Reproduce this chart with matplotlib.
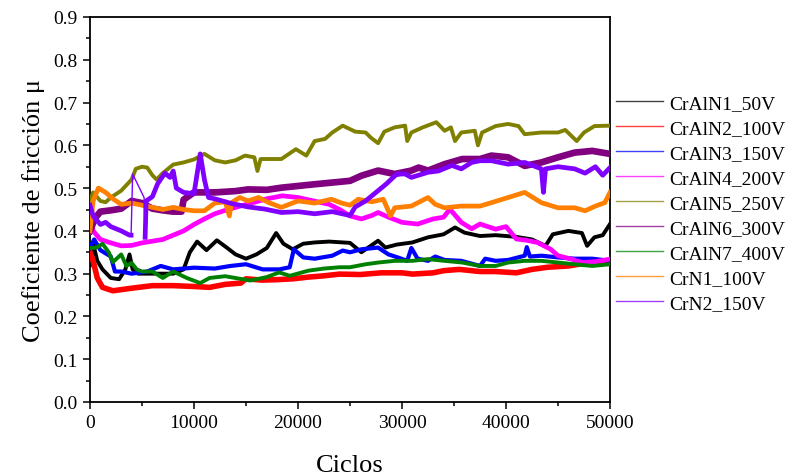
import matplotlib
matplotlib.use("Agg")
import matplotlib.pyplot as plt
from matplotlib.ticker import MultipleLocator
import numpy as np

plt.rcParams['font.family'] = ['Liberation Serif', 'DejaVu Serif']
plt.rcParams['mathtext.fontset'] = 'stix'

labels = ["CrAlN1_50V", "CrAlN2_100V", "CrAlN3_150V", "CrAlN4_200V", "CrAlN5_250V",
          "CrAlN6_300V", "CrAlN7_400V", "CrN1_100V", "CrN2_150V"]

# CrAlN1_50V (black)
n1_cyc = [0, 300, 700, 1200, 2000, 2800, 3400, 3800, 4100, 4600, 6000, 8000, 9000, 9600, 10300,
          11200, 12200, 13200, 14000, 15000, 16000, 17000, 17900, 18600, 19500, 20500, 21600,
          23000, 25000, 26100, 27700, 28400, 29500, 31000, 32500, 34000, 35100, 36000, 37500,
          39000, 41000, 42500, 43800, 44500, 46000, 47300, 47800, 48500, 49300, 50000]
n1_mu = [0.32, 0.37, 0.33, 0.31, 0.29, 0.287, 0.31, 0.345, 0.31, 0.30, 0.30, 0.30, 0.31, 0.35, 0.375,
         0.355, 0.378, 0.36, 0.345, 0.335, 0.345, 0.36, 0.395, 0.37, 0.357, 0.37, 0.373,
         0.375, 0.372, 0.35, 0.377, 0.361, 0.368, 0.373, 0.385, 0.392, 0.408, 0.396, 0.388,
         0.39, 0.386, 0.38, 0.365, 0.392, 0.40, 0.395, 0.365, 0.385, 0.39, 0.416]

# CrAlN2_100V (red)
n2_cyc = [0, 300, 700, 1200, 2200, 4000, 6000, 8000, 10000, 11500, 13000, 14500, 15000, 16500,
          18000, 19500, 21000, 22500, 24000, 26000, 28000, 30000, 31000, 33000, 34000, 35500,
          37500, 39000, 41000, 42500, 44000, 46000, 48000, 50000]
n2_mu = [0.35, 0.33, 0.29, 0.268, 0.26, 0.266, 0.272, 0.272, 0.27, 0.268, 0.275, 0.278, 0.288, 0.285,
         0.286, 0.288, 0.292, 0.295, 0.299, 0.298, 0.302, 0.302, 0.299, 0.302, 0.307, 0.31,
         0.305, 0.305, 0.302, 0.31, 0.315, 0.318, 0.326, 0.33]

# CrAlN3_150V (blue)
n3_cyc = [0, 400, 1000, 2000, 2400, 3000, 4000, 5500, 6800, 8000, 10000, 12000, 13500, 15000,
          16600, 18200, 19200, 19600, 20500, 21600, 23300, 24300, 25000, 26100, 27700, 28700,
          29700, 30500, 30900, 31500, 32500, 33200, 34100, 35700, 37500, 38000, 39000, 40200,
          41800, 42000, 42300, 43400, 45000, 46600, 48300, 50000]
n3_mu = [0.36, 0.38, 0.355, 0.34, 0.305, 0.305, 0.30, 0.305, 0.318, 0.31, 0.314, 0.312, 0.318, 0.322,
         0.31, 0.31, 0.315, 0.357, 0.338, 0.335, 0.342, 0.354, 0.35, 0.357, 0.361, 0.345,
         0.337, 0.33, 0.36, 0.335, 0.33, 0.34, 0.332, 0.33, 0.318, 0.335, 0.33, 0.332,
         0.342, 0.362, 0.34, 0.342, 0.338, 0.335, 0.335, 0.33]

# CrAlN4_200V (magenta)
n4_cyc = [0, 300, 1000, 2000, 3000, 4000, 5000, 6000, 7000, 8000, 9000, 10000, 11000, 12000,
          13000, 14000, 15500, 17000, 18500, 20000, 21500, 23000, 24000, 25000, 26100, 27100,
          27700, 28700, 30000, 31500, 33000, 34000, 34600, 35700, 36700, 37500, 38000, 39000,
          40000, 41000, 42000, 43000, 44300, 45000, 46300, 47300, 48600, 50000]
n4_mu = [0.44, 0.40, 0.38, 0.372, 0.365, 0.366, 0.372, 0.376, 0.38, 0.39, 0.40, 0.415, 0.428, 0.44,
         0.448, 0.455, 0.465, 0.475, 0.482, 0.478, 0.47, 0.462, 0.45, 0.435, 0.428, 0.436,
         0.443, 0.432, 0.42, 0.416, 0.428, 0.432, 0.451, 0.42, 0.405, 0.416, 0.412, 0.404,
         0.41, 0.381, 0.378, 0.373, 0.357, 0.342, 0.334, 0.326, 0.328, 0.334]

# CrAlN5_250V (olive)
n5_cyc = [0, 300, 1000, 1500, 2000, 3000, 4000, 4400, 5000, 5500, 6000, 6400, 7000, 8000, 9000,
          10000, 11000, 12000, 13000, 14000, 14900, 15800, 16100, 16400, 18400, 19800, 20800,
          21600, 22600, 23300, 24300, 25500, 26500, 27000, 27700, 28300, 29300, 30300, 30500,
          30900, 32000, 33300, 34100, 34700, 35100, 35700, 37000, 37300, 37700, 39000, 40200,
          41200, 41800, 43400, 45000, 45700, 46800, 47500, 48500, 50000]
n5_mu = [0.47, 0.49, 0.47, 0.467, 0.478, 0.494, 0.52, 0.545, 0.55, 0.548, 0.53, 0.52, 0.535, 0.555, 0.56,
         0.567, 0.58, 0.565, 0.56, 0.565, 0.576, 0.572, 0.54, 0.568, 0.568, 0.591, 0.576,
         0.61, 0.615, 0.63, 0.646, 0.632, 0.63, 0.618, 0.605, 0.632, 0.642, 0.646, 0.61,
         0.63, 0.642, 0.654, 0.634, 0.642, 0.61, 0.63, 0.634, 0.60, 0.63, 0.645, 0.65,
         0.645, 0.626, 0.63, 0.63, 0.636, 0.61, 0.63, 0.645, 0.646]

# CrAlN6_300V (dark magenta)
n6_cyc = [0, 500, 1000, 2000, 3000, 4000, 5000, 6000, 7000, 8000, 8800, 9000, 10000, 11000, 12000,
          14000, 15200, 17000, 18400, 20000, 21600, 23300, 25000, 26100, 27700, 29300, 30900,
          31600, 32500, 34100, 35800, 37500, 38600, 40200, 41800, 43400, 45000, 46600, 48300, 50000]
n6_mu = [0.40, 0.43, 0.445, 0.448, 0.452, 0.47, 0.465, 0.452, 0.448, 0.445, 0.445, 0.473, 0.49, 0.49, 0.49,
         0.493, 0.497, 0.496, 0.501, 0.505, 0.509, 0.513, 0.517, 0.529, 0.541, 0.533, 0.541,
         0.548, 0.541, 0.556, 0.568, 0.568, 0.576, 0.572, 0.552, 0.56, 0.572, 0.583, 0.587, 0.58]

# CrAlN7_400V (green)
n7_cyc = [0, 300, 700, 1200, 1800, 2200, 3000, 3500, 4000, 4500, 5000, 6000, 7000, 8000, 9300,
          10600, 11500, 13000, 15400, 17000, 18200, 19200, 21000, 22500, 24000, 25000, 26500,
          27700, 29300, 31000, 32500, 34100, 35800, 37500, 39000, 40200, 41800, 43400, 45000,
          46600, 48300, 50000]
n7_mu = [0.36, 0.36, 0.362, 0.37, 0.35, 0.327, 0.345, 0.318, 0.325, 0.31, 0.305, 0.305, 0.29, 0.305, 0.29,
         0.278, 0.29, 0.294, 0.284, 0.292, 0.303, 0.295, 0.307, 0.312, 0.315, 0.315, 0.322,
         0.326, 0.33, 0.33, 0.334, 0.33, 0.326, 0.318, 0.318, 0.326, 0.33, 0.33, 0.326,
         0.322, 0.318, 0.322]

# CrN1_100V (orange)
c1_cyc = [0, 300, 800, 1500, 2200, 3000, 4000, 5000, 6000, 7000, 8000, 9000, 10000, 11000, 12000,
          13000, 13400, 13600, 14400, 15200, 16200, 17200, 18400, 20000, 21600, 23200, 24200,
          25000, 25800, 27100, 28200, 28900, 29300, 30900, 32500, 33200, 34100, 35700, 37500,
          38600, 40200, 41800, 43400, 45000, 46600, 47600, 48600, 49500, 50000]
c1_mu = [0.40, 0.47, 0.50, 0.49, 0.475, 0.462, 0.465, 0.46, 0.455, 0.45, 0.455, 0.45, 0.447, 0.447, 0.465,
         0.468, 0.435, 0.466, 0.478, 0.47, 0.478, 0.466, 0.455, 0.47, 0.465, 0.474, 0.465,
         0.46, 0.474, 0.468, 0.474, 0.435, 0.454, 0.458, 0.478, 0.462, 0.454, 0.458, 0.458,
         0.466, 0.478, 0.49, 0.466, 0.454, 0.454, 0.447, 0.458, 0.466, 0.49]

# CrN2_150V (violet)
c2_cyc = [0, 300, 1000, 1500, 2000, 3000, 3800, 3950, 4100, 5200, 5300, 5400, 6000, 6500, 7200,
          7700, 8000, 8300, 9000, 10000, 10600, 11000, 11400, 12000, 13600, 15200, 16800, 18400,
          20000, 21600, 23300, 25000, 25500, 26500, 27500, 28500, 29500, 30300, 30900, 32500,
          33500, 34800, 35700, 36700, 37500, 38600, 40200, 41800, 43400, 43600, 43800, 45000,
          46600, 47600, 48600, 49300, 50000]
c2_mu = [0.46, 0.435, 0.415, 0.42, 0.41, 0.40, 0.39, 0.39, 0.533, 0.478, 0.385, 0.47, 0.48, 0.51, 0.535,
         0.525, 0.54, 0.50, 0.49, 0.487, 0.58, 0.52, 0.478, 0.475, 0.464, 0.456, 0.451, 0.443,
         0.445, 0.44, 0.445, 0.436, 0.456, 0.47, 0.49, 0.51, 0.533, 0.533, 0.525, 0.537,
         0.54, 0.553, 0.545, 0.56, 0.564, 0.564, 0.556, 0.56, 0.545, 0.49, 0.545, 0.55,
         0.545, 0.535, 0.55, 0.53, 0.548]

series = [(n1_cyc, n1_mu), (n2_cyc, n2_mu), (n3_cyc, n3_mu), (n4_cyc, n4_mu), (n5_cyc, n5_mu),
          (n6_cyc, n6_mu), (n7_cyc, n7_mu), (c1_cyc, c1_mu), (c2_cyc, c2_mu)]
colors = ['#000000', '#FF0000', '#0000FF', '#FF00FF', '#808000', '#800080', '#008000', '#FF8000', '#8000FF']
widths = [2.8, 4.0, 3.0, 3.4, 2.8, 4.8, 2.8, 3.4, 3.4]

fig = plt.figure(figsize=(7.92, 4.77), dpi=100)
ax = fig.add_axes([90 / 792, 74 / 477, 520 / 792, 385 / 477])

for i, ((cx, mu), col, lw) in enumerate(zip(series, colors, widths)):
    cx = np.array(cx, dtype=float)
    mu = np.array(mu, dtype=float)
    if i == 8:
        # thin jump segment between ~3950 and ~5300 cycles
        ax.plot(cx, mu, color=col, lw=1.0, zorder=2 + i)
        thick = mu.copy()
        thick[(cx > 3950) & (cx < 5300)] = np.nan
        ax.plot(cx, thick, color=col, lw=lw, zorder=2 + i)
    else:
        ax.plot(cx, mu, color=col, lw=lw, zorder=2 + i)

ax.set_xlim(0, 50000)
ax.set_ylim(0.0, 0.9)
ax.xaxis.set_major_locator(MultipleLocator(10000))
ax.xaxis.set_minor_locator(MultipleLocator(5000))
ax.yaxis.set_major_locator(MultipleLocator(0.1))
ax.yaxis.set_minor_locator(MultipleLocator(0.05))
ax.yaxis.set_major_formatter(plt.FuncFormatter(lambda v, p: f"{v:.1f}"))
ax.tick_params(which='major', direction='out', length=5, width=1.1, labelsize=14, pad=4)
ax.tick_params(which='minor', direction='out', length=3, width=1.1)
for s in ax.spines.values():
    s.set_linewidth(1.3)

ax.set_xlabel("Ciclos", fontsize=19, labelpad=16)
ax.set_ylabel("Coeficiente de fricción μ", fontsize=19, labelpad=6)

handles = [plt.Line2D([], [], color=c, lw=1.0, alpha=0.75) for c in colors]
fig.legend(handles, labels, loc='center left', bbox_to_anchor=(616 / 792, 1 - 204 / 477),
           frameon=False, fontsize=14, handlelength=2.4, handletextpad=0.35,
           labelspacing=0.38, borderpad=0, borderaxespad=0)

fig.savefig("out.png", dpi=100)
